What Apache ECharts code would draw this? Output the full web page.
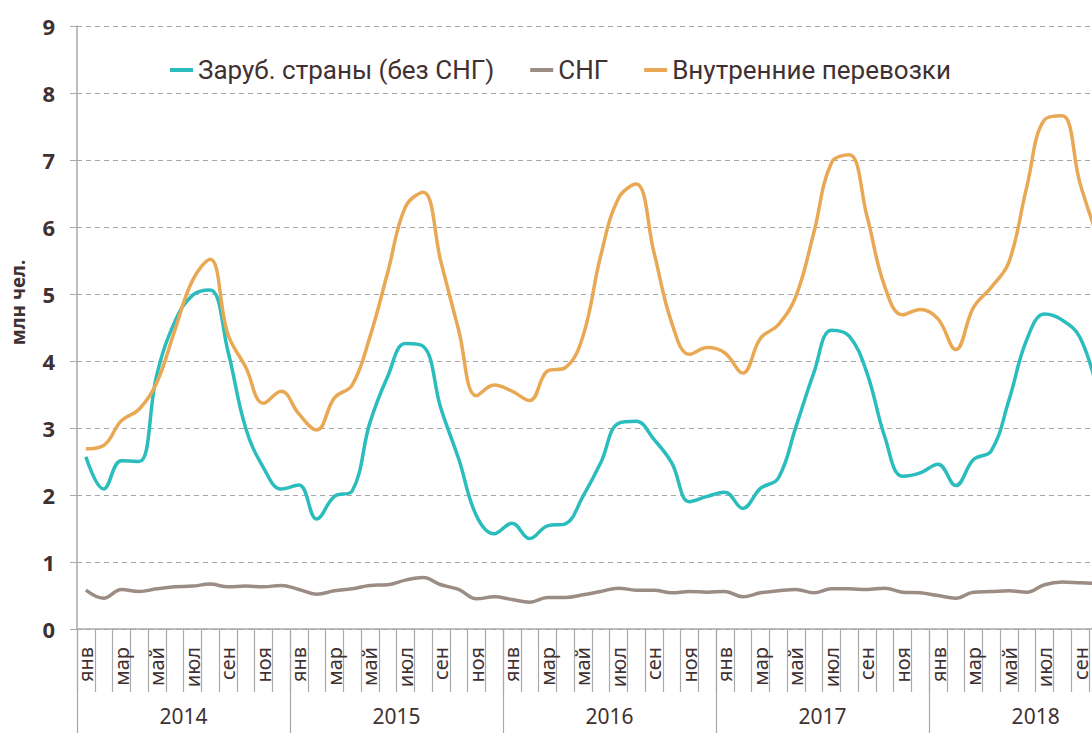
<!DOCTYPE html>
<html><head><meta charset="utf-8">
<script src="https://cdn.jsdelivr.net/npm/echarts@6/dist/echarts.min.js"></script>
<style>html,body{margin:0;padding:0;overflow:hidden;background:#fff}#c{width:1130px;height:733px}</style>
</head><body><div id="c"></div>
<script>
const years = ['2014','2015','2016','2017','2018'];
const monthNames = ['янв','фев','мар','апр','май','июн','июл','авг','сен','окт','ноя','дек'];
const seriesNames = ['Заруб. страны (без СНГ)','СНГ','Внутренние перевозки'];
const yAxisName = 'млн чел.';
// Jan 2014 .. Oct 2018
const abroad = [
  2.57, 2.09, 2.51, 2.50, 3.80, 4.58, 4.98, 5.06, 4.15, 3.00, 2.41, 2.09,
  2.15, 1.64, 1.98, 2.06, 3.08, 3.77, 4.26, 4.22, 3.29, 2.54, 1.69, 1.42,
  1.58, 1.35, 1.54, 1.57, 1.98, 2.48, 3.07, 3.10, 2.83, 2.48, 1.90, 1.98,
  2.04, 1.80, 2.10, 2.25, 3.02, 3.82, 4.46, 4.37, 3.82, 2.87, 2.28, 2.33,
  2.46, 2.14, 2.53, 2.66, 3.42, 4.32, 4.70, 4.61, 4.35, 3.55
];
const cis = [
  0.58, 0.46, 0.59, 0.56, 0.60, 0.63, 0.64, 0.67, 0.63, 0.64, 0.63, 0.65,
  0.59, 0.52, 0.57, 0.60, 0.65, 0.66, 0.73, 0.77, 0.66, 0.59, 0.45, 0.48,
  0.44, 0.40, 0.47, 0.47, 0.51, 0.56, 0.61, 0.58, 0.58, 0.54, 0.56, 0.55,
  0.56, 0.48, 0.54, 0.57, 0.59, 0.54, 0.60, 0.60, 0.59, 0.61, 0.55, 0.54,
  0.50, 0.46, 0.55, 0.56, 0.57, 0.55, 0.66, 0.70, 0.69, 0.68
];
const domestic = [
  2.69, 2.74, 3.11, 3.28, 3.68, 4.45, 5.20, 5.52, 4.40, 3.91, 3.37, 3.55,
  3.21, 2.97, 3.45, 3.64, 4.36, 5.32, 6.30, 6.52, 5.48, 4.46, 3.48, 3.64,
  3.55, 3.41, 3.85, 3.90, 4.37, 5.57, 6.43, 6.64, 5.62, 4.57, 4.10, 4.20,
  4.12, 3.82, 4.34, 4.54, 4.97, 5.91, 6.96, 7.08, 6.16, 5.11, 4.69, 4.77,
  4.63, 4.17, 4.80, 5.10, 5.48, 6.60, 7.60, 7.66, 6.65, 5.85
];

const n = abroad.length;
const categories = [];
for (let i = 0; i < n; i++) categories.push(monthNames[i % 12] + ' ' + years[Math.floor(i / 12)]);

const textColor = '#3f3131';
const axisGray = '#a9a9a9';
const chart = echarts.init(document.getElementById('c'), null, {renderer: 'svg'});
chart.setOption({
  animation: false,
  backgroundColor: '#fff',
  grid: {left: 76, top: 26, width: 17.77 * n, height: 603, containLabel: false},
  legend: {
    left: 165, top: 52, itemGap: 36, itemWidth: 23, itemHeight: 4, icon: 'rect',
    textStyle: {fontFamily: 'Roboto', fontSize: 26, color: textColor},
    data: seriesNames
  },
  xAxis: [
    {
      type: 'category', data: categories, boundaryGap: true, position: 'bottom',
      axisLine: {show: true, lineStyle: {color: axisGray, width: 1.5}},
      axisTick: {show: true, interval: 0, length: 63, lineStyle: {color: axisGray, width: 1.2}},
      axisLabel: {interval: 1, rotate: 90, margin: 18, fontFamily: 'Noto Sans', fontSize: 20, color: textColor,
        formatter: v => v.split(' ')[0]},
      splitLine: {show: false}
    },
    {
      type: 'value', min: 0, max: n, interval: 12, position: 'bottom',
      axisLine: {show: false},
      axisTick: {show: true, length: 110, lineStyle: {color: axisGray, width: 1.2}},
      axisLabel: {show: false}, splitLine: {show: false}
    },
    {
      type: 'value', min: 0, max: n, interval: 6, position: 'bottom',
      axisLine: {show: false}, axisTick: {show: false}, splitLine: {show: false},
      axisLabel: {margin: 76, fontFamily: 'Noto Sans', fontSize: 21, color: textColor,
        formatter: v => (v % 12 === 6 ? years[(v - 6) / 12] : '')}
    }
  ],
  yAxis: {
    type: 'value', min: 0, max: 9, interval: 1,
    name: yAxisName, nameLocation: 'middle', nameGap: 50,
    nameTextStyle: {fontFamily: 'Noto Sans', fontSize: 19, fontWeight: 'bold', color: textColor, padding: [0, 0, 0, 50]},
    axisLine: {show: true, lineStyle: {color: axisGray, width: 1.5}},
    axisTick: {show: true, length: 7, lineStyle: {color: axisGray}},
    axisLabel: {margin: 22, fontFamily: 'Noto Sans', fontSize: 22, fontWeight: 'bold', color: textColor},
    splitLine: {show: true, lineStyle: {color: '#a6a6a6', type: [5, 4], width: 1.2}}
  },
  series: [
    {name: seriesNames[0], type: 'line', data: abroad, smooth: 0.4, symbol: 'none', xAxisIndex: 0,
      lineStyle: {color: '#2bbdbd', width: 3.5}, itemStyle: {color: '#2bbdbd'}},
    {name: seriesNames[1], type: 'line', data: cis, smooth: 0.4, symbol: 'none', xAxisIndex: 0,
      lineStyle: {color: '#9b8c84', width: 3.5}, itemStyle: {color: '#9b8c84'}},
    {name: seriesNames[2], type: 'line', data: domestic, smooth: 0.4, symbol: 'none', xAxisIndex: 0,
      lineStyle: {color: '#e9a853', width: 3.5}, itemStyle: {color: '#e9a853'}}
  ]
});
</script></body></html>
